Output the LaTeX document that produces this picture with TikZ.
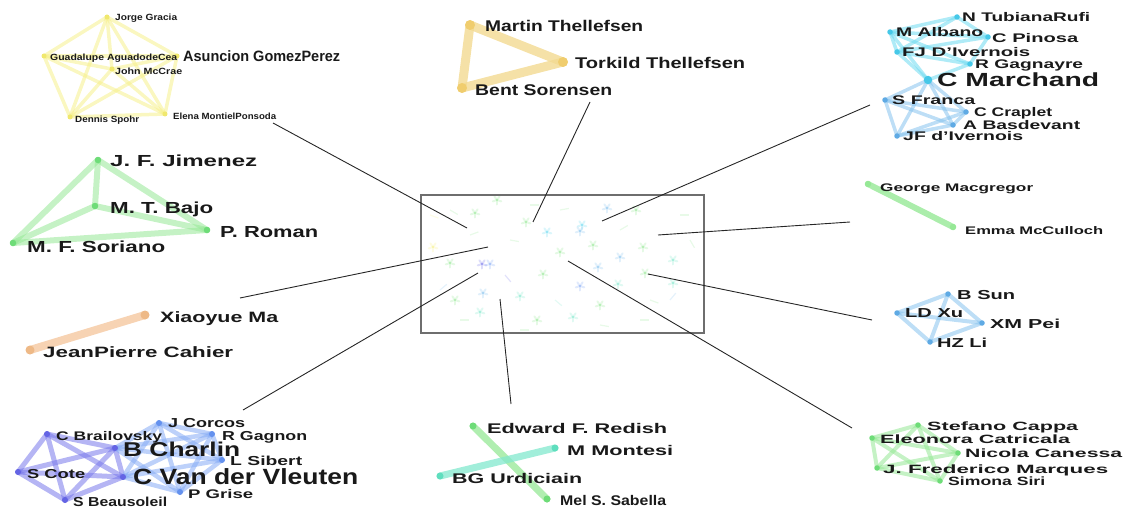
\documentclass[tikz,border=0pt]{standalone}
\usepackage{graphicx}
\usepackage{fontspec}
\setmainfont{Liberation Sans}
\usetikzlibrary{backgrounds}
\definecolor{txt}{RGB}{25,25,25}
\definecolor{yel}{RGB}{246,240,140}
\definecolor{yeld}{RGB}{240,232,110}
\definecolor{gold}{RGB}{243,218,145}
\definecolor{goldd}{RGB}{240,205,110}
\definecolor{cya}{RGB}{110,218,240}
\definecolor{cyad}{RGB}{70,200,232}
\definecolor{lbl}{RGB}{135,195,238}
\definecolor{lbld}{RGB}{95,170,228}
\definecolor{grn}{RGB}{150,232,150}
\definecolor{grnd}{RGB}{110,220,120}
\definecolor{org}{RGB}{245,200,160}
\definecolor{orgd}{RGB}{238,185,135}
\definecolor{pur}{RGB}{120,120,235}
\definecolor{purd}{RGB}{100,100,228}
\definecolor{blu}{RGB}{135,172,245}
\definecolor{blud}{RGB}{100,145,238}
\definecolor{tea}{RGB}{130,232,205}
\definecolor{tead}{RGB}{95,222,190}
\definecolor{boxc}{RGB}{110,110,110}
\newcommand\lab[3]{\resizebox{#1pt}{\height}{\fontsize{#2}{#2}\selectfont\bfseries #3}}
\tikzset{
  lblnode/.style={anchor=base west, inner sep=0pt, text=txt},
  dot/.style={circle, inner sep=0pt, minimum size=#1},
  dot/.default=5.5,
  edge/.style={line width=#1, draw opacity=0.55, line cap=round},
  conn/.style={draw=black!85, line width=0.9pt},
}
\begin{document}
\begin{tikzpicture}[x=1pt,y=-1pt]
\useasboundingbox (0,0) rectangle (1126,508);
% ---------- yellow cluster ----------
\foreach \n/\x/\y in {jg/107/17, ga/44/56, agp/177/56, jm/112/69, ds/70/117, emp/165/114}
  \node[dot=5, fill=yeld] (\n) at (\x,\y) {};
\node[lblnode] (jgL) at (115,20.2) {\lab{62}{9}{Jorge Gracia}};
\node[lblnode] (gaL) at (50,60.2) {\lab{127}{9}{Guadalupe AguadodeCea}};
\node[lblnode] (agpL) at (183,61.4) {\lab{157}{15}{Asuncion GomezPerez}};
\node[lblnode] (jmL) at (115,74.2) {\lab{67}{9}{John McCrae}};
\node[lblnode] (dsL) at (75,122.2) {\lab{64}{9}{Dennis Spohr}};
\node[lblnode] (empL) at (173,119.2) {\lab{103}{9}{Elena MontielPonsoda}};
% ---------- Thellefsen ----------
\node[dot=10, fill=goldd] (mt) at (470,25) {};
\node[dot=10, fill=goldd] (tt) at (563,62) {};
\node[dot=10, fill=goldd] (bs) at (462,88) {};
\node[lblnode] (mtL) at (485,31.5) {\lab{158}{15.5}{Martin Thellefsen}};
\node[lblnode] (ttL) at (575,68.5) {\lab{170}{15.5}{Torkild Thellefsen}};
\node[lblnode] (bsL) at (475,95.5) {\lab{137}{15.5}{Bent Sorensen}};
% ---------- cyan / light blue cluster ----------
\foreach \n/\x/\y in {nt/957/17, ma/890/32, cp/988/37, fj/897/52, rg/970/64}
  \node[dot=5.5, fill=cyad] (\n) at (\x,\y) {};
\node[dot=8.5, fill=cyad] (cm) at (928,80) {};
\foreach \n/\x/\y in {sf/885/100, cc/966/112, ab/953/125, jfd/897/136}
  \node[dot=5.5, fill=lbld] (\n) at (\x,\y) {};
\node[lblnode] (ntL) at (962,21.5) {\lab{128}{12.5}{N TubianaRufi}};
\node[lblnode] (maL) at (896,36.5) {\lab{87}{12.5}{M Albano}};
\node[lblnode] (cpL) at (992,42.5) {\lab{86}{12.5}{C Pinosa}};
\node[lblnode] (fjL) at (902,56.5) {\lab{128}{12.5}{FJ D'Ivernois}};
\node[lblnode] (rgL) at (975,68.5) {\lab{108}{12.5}{R Gagnayre}};
\node[lblnode] (cmL) at (937,86.8) {\lab{162}{19}{C Marchand}};
\node[lblnode] (sfL) at (892,104.5) {\lab{83}{12.5}{S Franca}};
\node[lblnode] (ccL) at (974,116.5) {\lab{78}{12.5}{C Craplet}};
\node[lblnode] (abL) at (963,129.5) {\lab{117}{12.5}{A Basdevant}};
\node[lblnode] (jfdL) at (903,140.5) {\lab{120}{12.5}{JF d'Ivernois}};
% ---------- Jimenez cluster ----------
\foreach \n/\x/\y in {jfj/98/160, mtb/95/206, pr/207/230, mfs/13/243}
  \node[dot=6.5, fill=grnd] (\n) at (\x,\y) {};
\node[lblnode] (jfjL) at (110,166.7) {\lab{147}{16}{J. F. Jimenez}};
\node[lblnode] (mtbL) at (110,213.7) {\lab{103}{16}{M. T. Bajo}};
\node[lblnode] (prL) at (220,237.7) {\lab{98}{16}{P. Roman}};
\node[lblnode] (mfsL) at (27,252.7) {\lab{138}{16}{M. F. Soriano}};
% ---------- orange pair ----------
\node[dot=9, fill=orgd] (xm) at (145,315) {};
\node[dot=9, fill=orgd] (jpc) at (30,350) {};
\node[lblnode] (xmL) at (160,322.4) {\lab{118}{15}{Xiaoyue Ma}};
\node[lblnode] (jpcL) at (43,357.4) {\lab{190}{15}{JeanPierre Cahier}};
% ---------- George pair ----------
\node[dot=6.5, fill=grn] (gm) at (868,184) {};
\node[dot=6.5, fill=grn] (emc) at (953,227) {};
\node[lblnode] (gmL) at (880,191) {\lab{153}{11}{George Macgregor}};
\node[lblnode] (emcL) at (965,234) {\lab{138}{11}{Emma McCulloch}};
% ---------- B Sun cluster ----------
\foreach \n/\x/\y in {bsun/948/294, ldx/897/313, xmp/982/323, hzl/930/342}
  \node[dot=5.5, fill=lbld] (\n) at (\x,\y) {};
\node[lblnode] (bsunL) at (957,299.7) {\lab{58}{13}{B Sun}};
\node[lblnode] (ldxL) at (905,317.7) {\lab{58}{13}{LD Xu}};
\node[lblnode] (xmpL) at (990,328.7) {\lab{70}{13}{XM Pei}};
\node[lblnode] (hzlL) at (937,347.7) {\lab{50}{13}{HZ Li}};
% ---------- blue cluster ----------
\foreach \n/\x/\y in {cb/47/434, sc/18/472, sb/65/500, bc/115/448, cvv/123/477}
  \node[dot=6, fill=purd] (\n) at (\x,\y) {};
\foreach \n/\x/\y in {jc/159/423, rgn/212/434, ls/222/460, pg/180/492}
  \node[dot=6, fill=blud] (\n) at (\x,\y) {};
\node[lblnode] (jcL) at (168,427.7) {\lab{77}{13}{J Corcos}};
\node[lblnode] (cbL) at (56,440.2) {\lab{106}{12.5}{C Brailovsky}};
\node[lblnode] (rgnL) at (222,440.7) {\lab{85}{13}{R Gagnon}};
\node[lblnode] (bcL) at (123,456.5) {\lab{117}{20}{B Charlin}};
\node[lblnode] (lsL) at (230,465.7) {\lab{72}{13}{L Sibert}};
\node[lblnode] (scL) at (27,478.7) {\lab{58}{13}{S Cote}};
\node[lblnode] (cvvL) at (133,484.6) {\lab{225}{22}{C Van der Vleuten}};
\node[lblnode] (pgL) at (188,498.5) {\lab{65}{12.5}{P Grise}};
\node[lblnode] (sbL) at (73,506.7) {\lab{94}{13}{S Beausoleil}};
% ---------- Edward cluster ----------
\node[dot=7, fill=grnd] (efr) at (473,426) {};
\node[dot=7, fill=tead] (mm) at (555,448) {};
\node[dot=7, fill=tead] (bgu) at (440,476) {};
\node[dot=7, fill=grnd] (mss) at (547,499) {};
\node[lblnode] (efrL) at (487,433) {\lab{180}{14}{Edward F. Redish}};
\node[lblnode] (mmL) at (567,455) {\lab{106}{14}{M Montesi}};
\node[lblnode] (bguL) at (452,483) {\lab{130}{14}{BG Urdiciain}};
\node[lblnode] (mssL) at (560,505) {\lab{106}{14}{Mel S. Sabella}};
% ---------- Stefano cluster ----------
\foreach \n/\x/\y in {sca/918/425, ec/872/438, nc/958/453, jfm/877/468, ss/940/481}
  \node[dot=5.5, fill=grnd] (\n) at (\x,\y) {};
\node[lblnode] (scaL) at (927,430.3) {\lab{151}{12}{Stefano Cappa}};
\node[lblnode] (ecL) at (880,443.3) {\lab{190}{12}{Eleonora Catricala}};
\node[lblnode] (ncL) at (965,457.3) {\lab{157}{12}{Nicola Canessa}};
\node[lblnode] (jfmL) at (883,473.3) {\lab{225}{12}{J. Frederico Marques}};
\node[lblnode] (ssL) at (948,485.3) {\lab{97}{12}{Simona Siri}};
% ---------- overview box ----------
\node[draw=boxc, line width=1.6pt, inner sep=0pt, minimum width=283pt, minimum height=138pt, anchor=north west] (ov) at (420,194) {};
% connector end points
\coordinate (c1a) at (273,123); \coordinate (c1b) at (467,228);
\coordinate (c2a) at (590,102); \coordinate (c2b) at (533,222);
\coordinate (c3a) at (870,105); \coordinate (c3b) at (602,221);
\coordinate (c4a) at (850,222); \coordinate (c4b) at (658,235);
\coordinate (c5a) at (872,320); \coordinate (c5b) at (648,274);
\coordinate (c6a) at (852,428); \coordinate (c6b) at (568,261);
\coordinate (c7a) at (511,404); \coordinate (c7b) at (500,299);
\coordinate (c8a) at (240,298); \coordinate (c8b) at (488,247);
\coordinate (c9a) at (243,410); \coordinate (c9b) at (478,273);
\foreach \i in {1,...,9} \draw[conn] (c\i a) -- (c\i b);
% ---------- edges (background) ----------
\begin{pgfonlayer}{background}
  % faint overview content
  \foreach \x/\y/\c in {582/225/cya, 580/231/lbl, 482/264/pur, 490/264/blu, 560/252/grn, 543/274/grn, 580/286/blu,
      643/247/grn, 645/273/grn, 547/232/cya, 475/213/grn, 526/222/grn, 607/208/lbl, 620/257/lbl, 598/267/lbl,
      618/284/tea, 480/312/tea, 483/293/lbl, 450/263/grn, 573/317/tea, 433/247/yel, 497/200/grn, 593/245/grn,
      673/260/tea, 673/283/tea, 520/296/tea, 636/210/grn, 455/300/grn, 600/305/grn, 537/320/grn}
  { \foreach \a in {18,90,162,234,306} \draw[\c, line width=2pt, opacity=0.25, line cap=round] (\x,\y) -- ++(\a:4.5); }
  \foreach \x/\y/\a/\c in {450/210/30/grn, 470/235/-20/grn, 510/240/10/grn, 530/205/0/grn, 555/300/40/tea, 620/230/-30/grn,
      650/300/20/grn, 680/215/0/grn, 690/240/60/grn, 440/290/-40/lbl, 460/320/0/grn, 520/330/0/grn, 600/325/10/grn,
      640/320/0/grn, 670/300/-50/lbl, 430/215/20/yel, 560/210/-10/grn, 505/275/50/pur}
  { \draw[\c, line width=1.2pt, opacity=0.22] (\x,\y) -- ++(\a:9); }
  % yellow K6
  \foreach \a/\b in {jg/ga, jg/agp, jg/jm, jg/ds, jg/emp, ga/agp, ga/jm, ga/ds, ga/emp, agp/jm, agp/ds, agp/emp, jm/ds, jm/emp, ds/emp}
    \draw[edge=3.5pt, draw=yel] (\a.center) -- (\b.center);
  % Thellefsen
  \foreach \a/\b in {mt/tt, tt/bs, bs/mt}
    \draw[edge=9pt, draw=gold, draw opacity=0.8] (\a.center) -- (\b.center);
  % cyan upper
  \foreach \a/\b in {nt/ma, nt/cp, ma/cp, ma/fj, ma/rg, cp/rg, cp/fj, fj/rg, fj/cm, rg/cm, ma/cm, nt/fj}
    \draw[edge=3.5pt, draw=cya] (\a.center) -- (\b.center);
  % light blue lower
  \foreach \a/\b in {cm/sf, cm/cc, cm/ab, cm/jfd, sf/cc, sf/ab, sf/jfd, cc/ab, cc/jfd, ab/jfd}
    \draw[edge=3.5pt, draw=lbl] (\a.center) -- (\b.center);
  % Jimenez K4
  \foreach \a/\b in {jfj/mtb, jfj/pr, jfj/mfs, mtb/pr, mtb/mfs, mfs/pr}
    \draw[edge=6pt, draw=grn] (\a.center) -- (\b.center);
  % orange
  \draw[edge=8pt, draw=org, draw opacity=0.8] (xm.center) -- (jpc.center);
  % George
  \draw[edge=6pt, draw=grn, draw opacity=0.8] (gm.center) -- (emc.center);
  % B Sun
  \foreach \a/\b in {bsun/ldx, bsun/xmp, ldx/xmp, ldx/hzl, hzl/xmp, bsun/hzl}
    \draw[edge=4pt, draw=lbl] (\a.center) -- (\b.center);
  % blue left K5
  \foreach \a/\b in {cb/sc, cb/sb, cb/bc, cb/cvv, sc/sb, sc/bc, sc/cvv, sb/bc, sb/cvv, bc/cvv}
    \draw[edge=5pt, draw=pur] (\a.center) -- (\b.center);
  % blue right
  \foreach \a/\b in {jc/rgn, jc/bc, jc/ls, jc/cvv, jc/pg, rgn/bc, rgn/ls, rgn/cvv, rgn/pg, ls/bc, ls/cvv, ls/pg, pg/bc, pg/cvv}
    \draw[edge=4.5pt, draw=blu] (\a.center) -- (\b.center);
  % Edward
  \draw[edge=7pt, draw=grn, draw opacity=0.75] (efr.center) -- (mss.center);
  \draw[edge=7pt, draw=tea, draw opacity=0.75] (mm.center) -- (bgu.center);
  % Stefano K5
  \foreach \a/\b in {sca/ec, sca/nc, sca/jfm, sca/ss, ec/nc, ec/jfm, ec/ss, nc/jfm, nc/ss, jfm/ss}
    \draw[edge=4pt, draw=grn] (\a.center) -- (\b.center);
\end{pgfonlayer}
\end{tikzpicture}
\end{document}
